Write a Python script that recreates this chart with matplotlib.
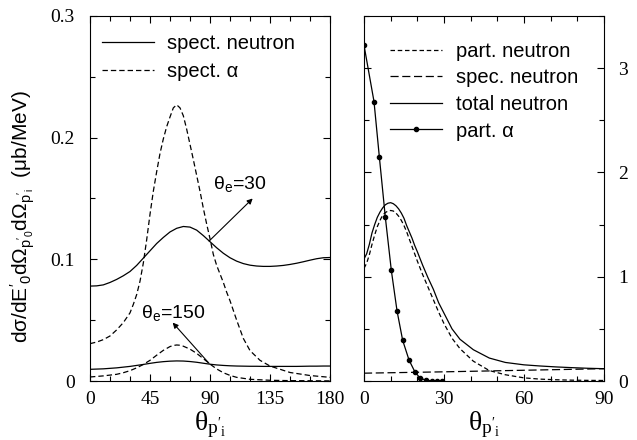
import numpy as np
import matplotlib
matplotlib.use("Agg")
import matplotlib.pyplot as plt
from matplotlib.ticker import MultipleLocator

# ********** Data **************************************************************

# Left panel: spectator cross sections vs theta_p'i (deg)
theta_5 = [0, 5, 10, 15, 20, 25, 30, 35, 40, 45, 50, 55, 60, 65, 70, 75, 80, 85, 90,
           95, 100, 105, 110, 115, 120, 125, 130, 135, 140, 145, 150, 155, 160, 165,
           170, 175, 180]
spect_n_30 = [0.078, 0.0782, 0.079, 0.081, 0.0835, 0.0865, 0.090, 0.095, 0.101, 0.107,
              0.113, 0.118, 0.1225, 0.1255, 0.127, 0.1265, 0.124, 0.1195, 0.1145, 0.1095,
              0.105, 0.1013, 0.0985, 0.0965, 0.0952, 0.0945, 0.0942, 0.0942, 0.0945,
              0.0950, 0.0958, 0.0968, 0.098, 0.0993, 0.1005, 0.1013, 0.1015]
spect_n_150 = [0.0096, 0.0098, 0.010, 0.0104, 0.0108, 0.0114, 0.012, 0.0128, 0.0136,
               0.0145, 0.0153, 0.0159, 0.0163, 0.0165, 0.0164, 0.016, 0.0154, 0.0146,
               0.0138, 0.0132, 0.0128, 0.0125, 0.0123, 0.0122, 0.0121, 0.0121, 0.012,
               0.012, 0.012, 0.012, 0.012, 0.012, 0.0121, 0.0122, 0.0122, 0.0123, 0.0123]

theta_a30 = [0, 5, 10, 15, 20, 25, 30, 32.5, 35, 37.5, 40, 42.5, 45, 47.5, 50, 52.5, 55,
             57.5, 60, 62.5, 65, 67.5, 70, 72.5, 75, 77.5, 80, 82.5, 85, 87.5, 90, 92.5,
             95, 97.5, 100, 102.5, 105, 110, 115, 120, 127.5, 135, 150, 165, 180]
spect_a_30 = [0.0307, 0.032, 0.034, 0.037, 0.042, 0.048, 0.056, 0.063, 0.071, 0.082,
              0.097, 0.116, 0.137, 0.156, 0.172, 0.187, 0.199, 0.209, 0.217, 0.2245,
              0.227, 0.2245, 0.218, 0.207, 0.1945, 0.182, 0.169, 0.156, 0.142, 0.129,
              0.117, 0.104, 0.095, 0.088, 0.081, 0.073, 0.066, 0.050, 0.035, 0.025,
              0.017, 0.0123, 0.007, 0.0045, 0.003]

theta_a150 = [0, 10, 20, 25, 30, 35, 40, 45, 50, 55, 60, 62.5, 65, 67.5, 70, 75, 80, 85,
              90, 95, 100, 105, 110, 120, 135, 150, 165, 180]
spect_a_150 = [0.0033, 0.0042, 0.0055, 0.0068, 0.0085, 0.0108, 0.0136, 0.0170, 0.0212,
               0.0252, 0.0283, 0.0292, 0.0296, 0.0294, 0.0286, 0.0262, 0.0227, 0.0184,
               0.0139, 0.0099, 0.0068, 0.0046, 0.003, 0.0014, 0.0006, 0.0003, 0.0002,
               0.0001]

# Right panel: neutron / alpha cross sections vs theta_p'i (deg)
theta_right = [0, 1, 2, 3, 4, 5, 6, 7, 8, 9, 10, 11, 12, 13, 14, 15, 16, 17, 18, 19,
               20, 22, 24, 26, 28, 30, 33, 36, 41, 47, 53, 60, 66, 72, 78, 84, 90]
total_n = [1.17, 1.22, 1.31, 1.42, 1.50, 1.57, 1.62, 1.66, 1.69, 1.705, 1.71, 1.70,
           1.68, 1.65, 1.61, 1.56, 1.49, 1.43, 1.37, 1.30, 1.24, 1.11, 0.99, 0.88,
           0.75, 0.65, 0.50, 0.40, 0.30, 0.22, 0.178, 0.155, 0.144, 0.135, 0.128,
           0.122, 0.118]
part_n = [1.08, 1.13, 1.21, 1.31, 1.40, 1.48, 1.54, 1.59, 1.615, 1.63, 1.635, 1.63,
          1.61, 1.58, 1.54, 1.49, 1.43, 1.36, 1.29, 1.22, 1.15, 1.02, 0.90, 0.78,
          0.66, 0.55, 0.41, 0.31, 0.19, 0.10, 0.06, 0.03, 0.018, 0.012, 0.008,
          0.006, 0.005]
spec_n_x = [0, 30, 60, 90]
spec_n = [0.075, 0.088, 0.103, 0.118]
alpha_x = [0, 3.75, 5.75, 8.0, 10.25, 12.4, 14.5, 16.9, 19.1, 21.1, 23.3, 25.4, 27.4, 29.4]
alpha_y = [3.22, 2.68, 2.15, 1.57, 1.06, 0.67, 0.39, 0.20, 0.087, 0.026, 0.008, 0.002, 0.0, 0.0]

# ********** Style *************************************************************

plt.rcParams['font.family'] = 'Liberation Sans'
plt.rcParams['mathtext.fontset'] = 'custom'
plt.rcParams['mathtext.rm'] = 'Liberation Sans'
plt.rcParams['mathtext.it'] = 'Liberation Sans:italic'
plt.rcParams['mathtext.default'] = 'regular'

lw = 0.9
fig = plt.figure(figsize=(6.37, 4.40), dpi=100)
ax1 = fig.add_axes([90/637, 59/440, 240/637, 365/440])
ax2 = fig.add_axes([364/637, 59/440, 240/637, 365/440])

for ax in (ax1, ax2):
    ax.tick_params(which='both', direction='in', top=True, right=True, left=True,
                   width=0.8, labelsize=14)
    ax.tick_params(which='major', length=5)
    ax.tick_params(which='minor', length=3.5)
    ax.tick_params(axis='x', pad=7)
    for s in ax.spines.values():
        s.set_linewidth(0.8)

# ********** Left panel ********************************************************

ax1.plot(theta_5, spect_n_30, 'k-', lw=lw, label='spect. neutron')
ax1.plot(theta_a30, spect_a_30, 'k--', lw=lw, dashes=(4.3, 2.4), label='spect. α')
ax1.plot(theta_5, spect_n_150, 'k-', lw=lw)
ax1.plot(theta_a150, spect_a_150, 'k--', lw=lw, dashes=(4.3, 2.4))

ax1.set_xlim(0, 180)
ax1.set_ylim(0, 0.3)
ax1.xaxis.set_major_locator(MultipleLocator(45))
ax1.xaxis.set_minor_locator(MultipleLocator(15))
ax1.yaxis.set_minor_locator(MultipleLocator(0.05))
ax1.set_yticks([0, 0.1, 0.2, 0.3], ['0', '0.1', '0.2', '0.3'])
ax1.tick_params(axis='y', pad=11)

arrow = dict(arrowstyle='-|>', lw=0.8, color='k', mutation_scale=8, shrinkA=0, shrinkB=0)
ax1.annotate('', xy=(122, 0.150), xytext=(89.3, 0.115), arrowprops=arrow)
ax1.annotate('', xy=(62, 0.048), xytext=(89.3, 0.0145), arrowprops=arrow)
ax1.text(112.5, 0.162, r'$\theta_e$=30', fontsize=14, ha='center', va='center')
ax1.text(62, 0.056, r'$\theta_e$=150', fontsize=14, ha='center', va='center')

ax1.legend(loc='upper left', bbox_to_anchor=(0.05, 0.95), frameon=False,
           fontsize=14.5, handlelength=2.6, handletextpad=0.65, labelspacing=0.42,
           borderpad=0, borderaxespad=0)

ax1.set_xlabel(r"$\theta_{p'_i}$", fontsize=20, family='Liberation Serif', labelpad=1)
fig.text(23/637, 1 - 217/440,
         r"d$\sigma$/d$E'_0$d$\Omega_{p'_0}$d$\Omega_{p'_i}$  ($\mu$b/MeV)",
         rotation=90, ha='center', va='center', fontsize=15)

# ********** Right panel *******************************************************

ax2.plot(theta_right, part_n, 'k--', lw=lw, dashes=(3.6, 2.2), label='part. neutron')
ax2.plot(spec_n_x, spec_n, 'k--', lw=lw, dashes=(6.5, 2.9), label='spec. neutron')
ax2.plot(theta_right, total_n, 'k-', lw=lw, label='total neutron')
ax2.plot(alpha_x, alpha_y, 'k-', lw=lw, marker='o', markersize=3, label='part. α')

ax2.set_xlim(0, 90)
ax2.set_ylim(0, 3.5)
ax2.xaxis.set_major_locator(MultipleLocator(30))
ax2.xaxis.set_minor_locator(MultipleLocator(10))
ax2.yaxis.set_major_locator(MultipleLocator(1))
ax2.yaxis.set_minor_locator(MultipleLocator(0.5))
ax2.yaxis.tick_right()
ax2.tick_params(which='both', left=True, right=True)
ax2.tick_params(axis='y', pad=10)

ax2.legend(loc='upper left', bbox_to_anchor=(0.108, 0.93), frameon=False,
           fontsize=14.5, handlelength=2.6, handletextpad=0.7, labelspacing=0.38,
           borderpad=0, borderaxespad=0)

ax2.set_xlabel(r"$\theta_{p'_i}$", fontsize=20, family='Liberation Serif', labelpad=1)

for ax in (ax1, ax2):
    for lab in ax.get_xticklabels() + ax.get_yticklabels():
        lab.set_fontfamily('Liberation Serif')

fig.savefig('out.png', dpi=100)
